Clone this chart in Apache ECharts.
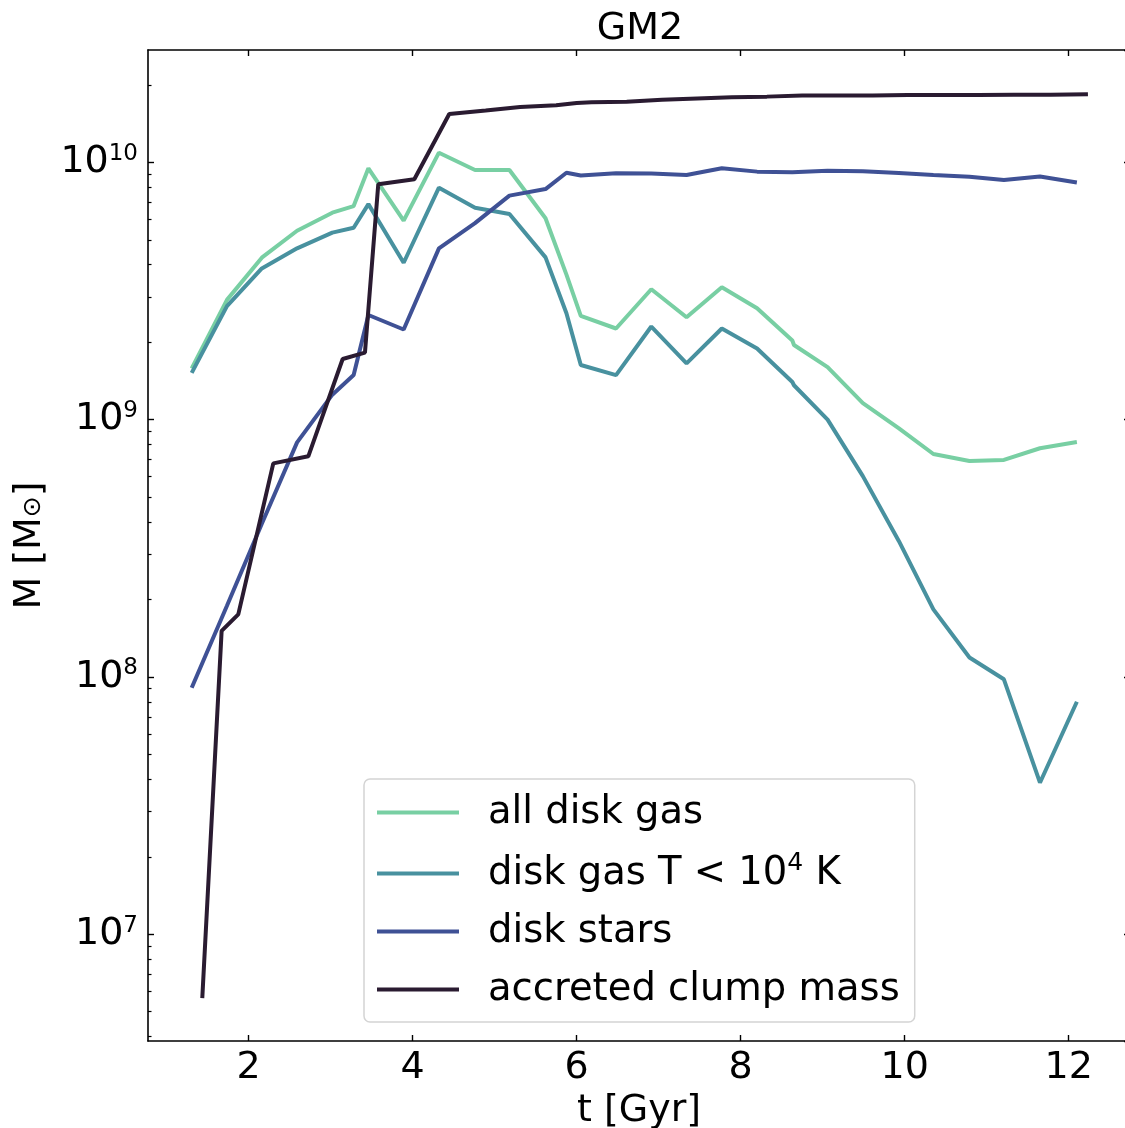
<!DOCTYPE html>
<html>
<head>
<meta charset="utf-8">
<script src="https://cdn.jsdelivr.net/npm/echarts@6/dist/echarts.min.js"></script>
<style>
html, body { margin: 0; padding: 0; background: #fff; overflow: hidden; }
#main { width: 1125px; height: 1128px; }
</style>
</head>
<body>
<div id="main"></div>
<script>
// time samples [Gyr] for the disk quantities
var tGas = [1.305, 1.735, 2.16, 2.59, 3.02, 3.28, 3.46, 3.89, 4.32, 4.76, 5.18, 5.62, 5.875, 6.05,
    6.48, 6.91, 7.34, 7.77, 8.20, 8.63, 8.65, 9.06, 9.49, 9.93, 10.35, 10.79, 11.21, 11.65, 12.10];
var gasAll = [1.58e9, 2.92e9, 4.26e9, 5.42e9, 6.37e9, 6.76e9, 9.48e9, 5.93e9, 1.09e10, 9.33e9, 9.33e9, 6.06e9, 3.66e9, 2.53e9,
    2.26e9, 3.21e9, 2.50e9, 3.27e9, 2.71e9, 2.03e9, 1.95e9, 1.60e9, 1.16e9, 9.25e8, 7.35e8, 6.90e8, 6.97e8, 7.74e8, 8.18e8];
var gasCold = [1.52e9, 2.76e9, 3.87e9, 4.63e9, 5.33e9, 5.57e9, 6.88e9, 4.07e9, 7.97e9, 6.66e9, 6.30e9, 4.27e9, 2.59e9, 1.63e9,
    1.49e9, 2.30e9, 1.655e9, 2.26e9, 1.89e9, 1.40e9, 1.36e9, 1.00e9, 6.03e8, 3.37e8, 1.83e8, 1.19e8, 9.79e7, 3.88e7, 8.01e7];
var stars = [9.07e7, 1.89e8, 3.94e8, 8.16e8, 1.25e9, 1.49e9, 2.55e9, 2.24e9, 4.63e9, 5.80e9, 7.42e9, 7.87e9, 9.11e9, 8.89e9,
    9.06e9, 9.04e9, 8.93e9, 9.48e9, 9.20e9, 9.15e9, 9.15e9, 9.28e9, 9.23e9, 9.09e9, 8.93e9, 8.79e9, 8.53e9, 8.81e9, 8.35e9];
// accreted clump mass has its own time samples
var tClump = [1.434, 1.67, 1.873, 2.30, 2.727, 3.146, 3.418, 3.58, 4.02, 4.446, 4.89, 5.31, 5.75, 6.0, 6.18,
    6.61, 7.04, 7.47, 7.89, 8.32, 8.75, 9.18, 9.61, 10.04, 10.47, 10.9, 11.33, 11.78, 12.235];
var clump = [5.65e6, 1.51e8, 1.75e8, 6.76e8, 7.2e8, 1.72e9, 1.82e9, 8.21e9, 8.59e9, 1.54e10, 1.59e10, 1.64e10, 1.665e10, 1.70e10, 1.71e10,
    1.72e10, 1.75e10, 1.77e10, 1.79e10, 1.80e10, 1.82e10, 1.82e10, 1.82e10, 1.825e10, 1.825e10, 1.825e10, 1.83e10, 1.83e10, 1.84e10];

var seriesNames = ['all disk gas', 'disk gas T < 10^4 K', 'disk stars', 'accreted clump mass'];
var colors = ['#78cfa3', '#48919f', '#3f5195', '#2a1b31'];
var xTicks = [2, 4, 6, 8, 10, 12];

var xMin = 0.772, xMax = 12.748;
var yMin = 3.846e6, yMax = 2.732e10;

var font = 'DejaVu Sans';
var fs = 38;

function zip(xs, ys) {
    var out = [];
    for (var i = 0; i < xs.length; i++) out.push([xs[i], ys[i]]);
    return out;
}

// minor log ticks (2..9 x 10^n), in log10 space
var minorTicks = [];
for (var n = 6; n <= 10; n++) {
    for (var k = 2; k <= 9; k++) {
        var lv = Math.log10(k * Math.pow(10, n));
        if (lv > Math.log10(yMin) && lv < Math.log10(yMax)) minorTicks.push(lv);
    }
}

var supStyle = { fontSize: 23, fontFamily: font, color: '#000', verticalAlign: 'bottom', padding: [0, 0, 17, 0] };
var spine = { show: true, lineStyle: { color: '#000', width: 1.6 } };

var myChart = echarts.init(document.getElementById('main'), null, { width: 1125, height: 1128 });
var option = {
    backgroundColor: '#fff',
    animation: false,
    title: {
        text: 'GM2',
        left: 635,
        textAlign: 'center',
        top: 5,
        textStyle: { fontFamily: font, fontSize: fs, fontWeight: 'normal', color: '#000' }
    },
    grid: { left: 148, top: 50, width: 982, height: 991, containLabel: false, outerBoundsMode: 'none' },
    legend: {
        orient: 'vertical',
        left: 364,
        top: 779,
        padding: [14, 15, 13, 13],
        backgroundColor: 'rgba(255,255,255,0.8)',
        borderColor: '#d4d4d4',
        borderWidth: 1.5,
        borderRadius: 6,
        itemWidth: 82,
        itemHeight: 4,
        itemGap: 19,
        icon: 'rect',
        data: seriesNames,
        formatter: function (name) {
            return name.replace('10^4', '10{sup|4}');
        },
        textStyle: {
            fontFamily: font, fontSize: 38.5, color: '#000', lineHeight: 39,
            padding: [0, 0, 0, 24],
            rich: { sup: { fontSize: 25, fontFamily: font, color: '#000', verticalAlign: 'bottom', padding: [0, 0, 17, 0] } }
        }
    },
    xAxis: [
        {
            type: 'value', position: 'bottom', min: xMin, max: xMax,
            axisLine: spine,
            axisTick: { show: true, inside: true, length: 6, customValues: xTicks, lineStyle: { color: '#000', width: 1.4 } },
            axisLabel: { customValues: xTicks, fontFamily: font, fontSize: fs, color: '#000', margin: 8 },
            splitLine: { show: false },
            name: 't [Gyr]', nameLocation: 'middle', nameGap: 50,
            nameTextStyle: { fontFamily: font, fontSize: fs, color: '#000' }
        },
        {
            type: 'value', position: 'top', min: xMin, max: xMax,
            axisLine: spine,
            axisTick: { show: true, inside: true, length: 6, customValues: xTicks, lineStyle: { color: '#000', width: 1.4 } },
            axisLabel: { show: false },
            splitLine: { show: false }
        }
    ],
    yAxis: [
        {
            type: 'log', logBase: 10, position: 'left', min: yMin, max: yMax,
            axisLine: spine,
            axisTick: { show: true, inside: true, length: 6, lineStyle: { color: '#000', width: 1.4 } },
            axisLabel: {
                fontFamily: font, fontSize: fs, color: '#000', margin: 10,
                showMinLabel: false, showMaxLabel: false,
                formatter: function (v) {
                    var e = Math.log10(v);
                    if (Math.abs(e - Math.round(e)) > 1e-6) return '';
                    return '10{sup|' + Math.round(e) + '}';
                },
                rich: { sup: supStyle }
            },
            splitLine: { show: false },
            name: 'M [M{sub|⊙}]', nameLocation: 'middle', nameGap: 98, nameRotate: 90,
            nameTextStyle: {
                fontFamily: font, fontSize: fs, color: '#000',
                rich: { sub: { fontSize: 25, fontFamily: font, color: '#000', verticalAlign: 'top', padding: [10, 0, 0, 0] } }
            }
        },
        {
            type: 'value', position: 'left', min: Math.log10(yMin), max: Math.log10(yMax),
            axisLine: { show: false },
            axisTick: { show: true, inside: true, length: 3.5, customValues: minorTicks, lineStyle: { color: '#000', width: 1.2 } },
            axisLabel: { show: false },
            splitLine: { show: false }
        },
        {
            type: 'log', logBase: 10, position: 'right', min: yMin, max: yMax,
            axisLine: spine,
            axisTick: { show: true, inside: true, length: 6, lineStyle: { color: '#000', width: 1.4 } },
            axisLabel: { show: false },
            splitLine: { show: false }
        }
    ],
    series: [
        {
            name: seriesNames[0], type: 'line', data: zip(tGas, gasAll),
            symbol: 'none', lineStyle: { width: 4, color: colors[0] }, itemStyle: { color: colors[0] }, z: 2
        },
        {
            name: seriesNames[1], type: 'line', data: zip(tGas, gasCold),
            symbol: 'none', lineStyle: { width: 4, color: colors[1] }, itemStyle: { color: colors[1] }, z: 3
        },
        {
            name: seriesNames[2], type: 'line', data: zip(tGas, stars),
            symbol: 'none', lineStyle: { width: 4, color: colors[2] }, itemStyle: { color: colors[2] }, z: 4
        },
        {
            name: seriesNames[3], type: 'line', data: zip(tClump, clump),
            symbol: 'none', lineStyle: { width: 4, color: colors[3] }, itemStyle: { color: colors[3] }, z: 5
        }
    ]
};
myChart.setOption(option);
</script>
</body>
</html>
